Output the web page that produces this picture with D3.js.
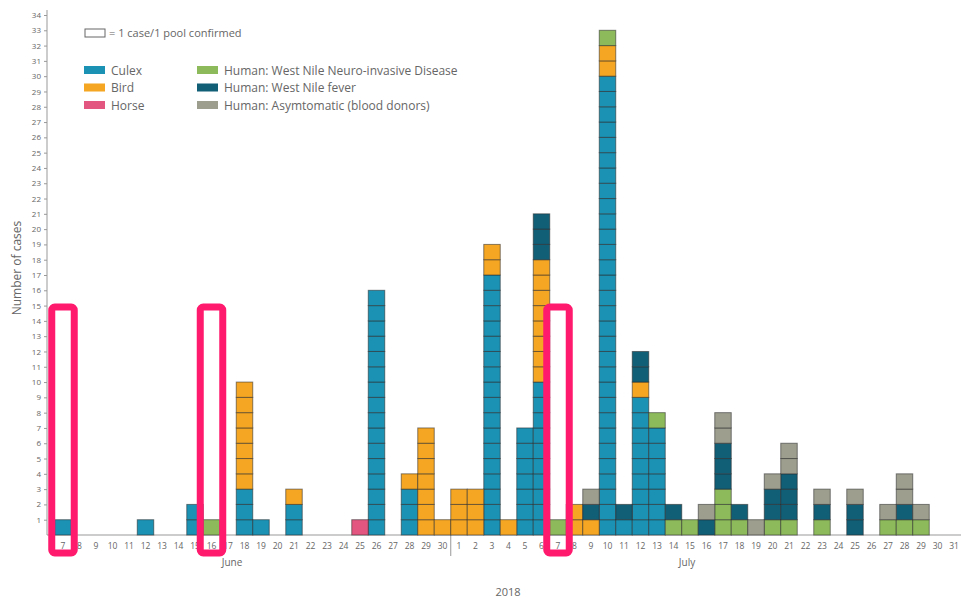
<!DOCTYPE html>
<html>
<head>
<meta charset="utf-8">
<script src="https://cdn.jsdelivr.net/npm/d3@7"></script>
<style>
  body { margin: 0; background: #fff; }
  text { font-family: "Open Sans", "DejaVu Sans", sans-serif; fill: #666; }
</style>
</head>
<body>
<svg id="chart" width="961" height="599"></svg>
<script>
// day labels, June 7 -> July 31
const juneDays = d3.range(7, 31);
const julyDays = d3.range(1, 32);
const days = juneDays.map(d => 'Jun ' + d).concat(julyDays.map(d => 'Jul ' + d));
const dayLabels = juneDays.concat(julyDays);

// cases per day (one value per day above)
//           Jun 7-16              Jun 17-26              Jun27-30   Jul 1-10                 Jul 11-20              Jul 21-31
const culex = [1,0,0,0,0,1,0,0,2,0, 0,3,1,0,2,0,0,0,0,16, 0,3,0,0, 0,0,17,0,7,10,0,0,0,30, 1,9,7,0,0,0,0,0,0,0, 0,0,0,0,0,0,0,0,0,0,0];
const bird  = [0,0,0,0,0,0,0,0,0,0, 0,7,0,0,1,0,0,0,0,0,  0,1,7,1, 3,3,2,1,0,8,0,2,1,2,    0,1,0,0,0,0,0,0,0,0, 0,0,0,0,0,0,0,0,0,0,0];
const horse = [0,0,0,0,0,0,0,0,0,0, 0,0,0,0,0,0,0,0,1,0,  0,0,0,0, 0,0,0,0,0,0,0,0,0,0,    0,0,0,0,0,0,0,0,0,0, 0,0,0,0,0,0,0,0,0,0,0];
const wnnd  = [0,0,0,0,0,0,0,0,0,1, 0,0,0,0,0,0,0,0,0,0,  0,0,0,0, 0,0,0,0,0,0,1,0,0,1,    0,0,1,1,1,0,3,1,0,1, 1,0,1,0,0,0,1,1,1,0,0];
const wnf   = [0,0,0,0,0,0,0,0,0,0, 0,0,0,0,0,0,0,0,0,0,  0,0,0,0, 0,0,0,0,0,3,0,0,1,0,    1,2,0,1,0,1,3,1,0,2, 3,0,1,0,2,0,0,1,0,0,0];
const asym  = [0,0,0,0,0,0,0,0,0,0, 0,0,0,0,0,0,0,0,0,0,  0,0,0,0, 0,0,0,0,0,0,0,0,1,0,    0,0,0,0,0,1,2,0,1,1, 2,0,1,0,1,0,1,2,1,0,0];

const seriesKeys = ['culex', 'bird', 'horse', 'wnnd', 'wnf', 'asym'];
const seriesNames = ['Culex', 'Bird', 'Horse', 'Human: West Nile Neuro-invasive Disease', 'Human: West Nile fever', 'Human: Asymtomatic (blood donors)'];
const seriesColors = ['#1b91b3', '#f5a623', '#e2567f', '#8dbb5c', '#115e77', '#9d9e8e'];
const yTicks = d3.range(1, 35);
const highlightDays = ['Jun 7', 'Jun 16', 'Jul 7'];

const values = { culex, bird, horse, wnnd, wnf, asym };
const table = days.map((day, i) => {
  const row = { day };
  seriesKeys.forEach(k => { row[k] = values[k][i]; });
  return row;
});

const svg = d3.select('#chart');

const x = d3.scaleBand().domain(days).range([54.75, 962.25]).padding(0);
const y = d3.scaleLinear().domain([0, 34]).range([535, 15]);
const color = d3.scaleOrdinal().domain(seriesKeys).range(seriesColors);

// y axis
const yAxis = svg.append('g')
  .attr('transform', 'translate(47,0)')
  .call(d3.axisLeft(y).tickValues(yTicks).tickSize(3).tickPadding(3).tickFormat(d3.format('d')));
yAxis.select('.domain').attr('stroke', '#999').attr('d', 'M0,535V10');
yAxis.selectAll('.tick line').attr('stroke', '#999');
yAxis.selectAll('.tick text').attr('font-size', 8).attr('fill', '#777');

svg.append('text')
  .attr('transform', 'translate(21,268) rotate(-90)')
  .attr('text-anchor', 'middle')
  .attr('font-size', 12)
  .text('Number of cases');

// x axis
svg.append('line')
  .attr('x1', 47).attr('x2', x.range()[1])
  .attr('y1', y(0)).attr('y2', y(0))
  .attr('stroke', '#999');

svg.append('g').selectAll('text')
  .data(days)
  .join('text')
  .attr('x', d => x(d) + x.bandwidth() / 2)
  .attr('y', 549)
  .attr('text-anchor', 'middle')
  .attr('font-size', 8.5)
  .attr('fill', '#777')
  .text((d, i) => dayLabels[i]);

// month separators
const sepX = [x('Jul 1'), x.range()[1]];
svg.append('g').selectAll('line')
  .data(sepX)
  .join('line')
  .attr('x1', d => d).attr('x2', d => d)
  .attr('y1', y(0)).attr('y2', 556)
  .attr('stroke', '#999');

svg.append('text').attr('x', 232).attr('y', 566).attr('text-anchor', 'middle').attr('font-size', 10).text('June');
svg.append('text').attr('x', 687).attr('y', 566).attr('text-anchor', 'middle').attr('font-size', 10).text('July');
svg.append('text').attr('x', 508).attr('y', 596).attr('text-anchor', 'middle').attr('font-size', 11).text('2018');

// stacked boxes, one rect per case
const stacked = d3.stack().keys(seriesKeys)(table);
const boxes = [];
stacked.forEach(layer => {
  layer.forEach(seg => {
    for (let v = seg[0]; v < seg[1]; v++) {
      boxes.push({ key: layer.key, day: seg.data.day, v });
    }
  });
});

svg.append('g').selectAll('rect')
  .data(boxes)
  .join('rect')
  .attr('x', d => x(d.day))
  .attr('y', d => y(d.v + 1))
  .attr('width', x.bandwidth())
  .attr('height', y(0) - y(1))
  .attr('fill', d => color(d.key))
  .attr('stroke', 'rgba(40,40,40,0.55)')
  .attr('stroke-width', 1);

// legend
const legend = svg.append('g');
legend.append('rect')
  .attr('x', 85).attr('y', 29).attr('width', 20).attr('height', 8)
  .attr('fill', '#fff').attr('stroke', '#666');
legend.append('text')
  .attr('x', 109).attr('y', 37).attr('font-size', 11)
  .text('= 1 case/1 pool confirmed');

const legendItems = legend.selectAll('g.item')
  .data(seriesKeys)
  .join('g')
  .attr('class', 'item')
  .attr('transform', (d, i) => `translate(${i < 3 ? 84 : 197},${66 + (i % 3) * 17.5})`);
legendItems.append('rect')
  .attr('width', 21).attr('height', 8)
  .attr('fill', d => color(d));
legendItems.append('text')
  .attr('x', 27).attr('y', 8.5)
  .attr('font-size', 12)
  .text((d, i) => seriesNames[i]);

// pink highlight boxes
svg.append('g').selectAll('rect')
  .data(highlightDays)
  .join('rect')
  .attr('x', d => x(d) - 3)
  .attr('y', 307)
  .attr('width', x.bandwidth() + 6)
  .attr('height', 246)
  .attr('rx', 3)
  .attr('fill', 'none')
  .attr('stroke', '#ff1a6e')
  .attr('stroke-width', 7);
</script>
</body>
</html>
